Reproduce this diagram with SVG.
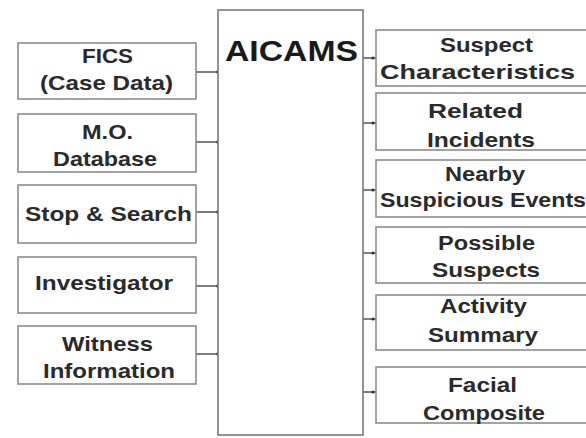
<svg xmlns="http://www.w3.org/2000/svg" width="586" height="438" viewBox="0 0 586 438">
<style>
.box{fill:#fff;stroke:#8c8c8c;stroke-width:1.6}
.main{fill:#fff;stroke:#7a7a7a;stroke-width:1.6}
.t{font-family:"Liberation Sans",Arial,sans-serif;font-weight:bold;font-size:21px;fill:#2a2a2a;text-anchor:middle}
.big{font-size:29px;fill:#1a1a1a}
.c{stroke:#555;stroke-width:1.3;fill:none}
.d{fill:#333}
</style>
<rect width="586" height="438" fill="#fff"/>
<g id="connectors">
<path class="c" d="M196 72H218M196 142H218M196 212H218M196 286H218M196 354H218"/>
<circle class="d" cx="218" cy="72" r="1.8"/>
<circle class="d" cx="218" cy="142" r="1.8"/>
<circle class="d" cx="218" cy="212" r="1.8"/>
<circle class="d" cx="218" cy="286" r="1.8"/>
<circle class="d" cx="218" cy="354" r="1.8"/>
<path class="c" d="M363 58H376M363 123H376M363 190H376M363 253H376M363 319H376M363 392H376" stroke="#888"/>
<circle class="d" cx="373" cy="58" r="1.6"/>
<circle class="d" cx="373" cy="123" r="1.6"/>
<circle class="d" cx="373" cy="190" r="1.6"/>
<circle class="d" cx="373" cy="253" r="1.6"/>
<circle class="d" cx="373" cy="319" r="1.6"/>
<circle class="d" cx="373" cy="392" r="1.6"/>
</g>
<g id="aicams">
<rect class="main" x="218" y="10" width="145" height="425"/>
<text class="t big" x="291.5" y="61" textLength="133" lengthAdjust="spacingAndGlyphs">AICAMS</text>
</g>
<g id="fics">
<rect class="box" x="18" y="43" width="178" height="56"/>
<text class="t" x="107.5" y="63" textLength="51" lengthAdjust="spacingAndGlyphs">FICS</text>
<text class="t" x="106.5" y="90" textLength="133" lengthAdjust="spacingAndGlyphs">(Case Data)</text>
</g>
<g id="mo">
<rect class="box" x="18" y="114" width="178" height="58"/>
<text class="t" x="107.5" y="139" textLength="51" lengthAdjust="spacingAndGlyphs">M.O.</text>
<text class="t" x="105" y="166" textLength="104" lengthAdjust="spacingAndGlyphs">Database</text>
</g>
<g id="stop">
<rect class="box" x="18" y="185" width="178" height="58"/>
<text class="t" x="108.5" y="221" textLength="167" lengthAdjust="spacingAndGlyphs">Stop &amp; Search</text>
</g>
<g id="investigator">
<rect class="box" x="18" y="257" width="178" height="56"/>
<text class="t" x="104" y="290" textLength="138" lengthAdjust="spacingAndGlyphs">Investigator</text>
</g>
<g id="witness">
<rect class="box" x="18" y="326" width="178" height="58"/>
<text class="t" x="107.5" y="351" textLength="91" lengthAdjust="spacingAndGlyphs">Witness</text>
<text class="t" x="109" y="378" textLength="132" lengthAdjust="spacingAndGlyphs">Information</text>
</g>
<g id="suspect-characteristics">
<rect class="box" x="376" y="30" width="216" height="56"/>
<text class="t" x="486.5" y="52" textLength="93" lengthAdjust="spacingAndGlyphs">Suspect</text>
<text class="t" x="477.5" y="79" textLength="195" lengthAdjust="spacingAndGlyphs">Characteristics</text>
</g>
<g id="related-incidents">
<rect class="box" x="376" y="93" width="216" height="57"/>
<text class="t" x="475.5" y="118" textLength="95" lengthAdjust="spacingAndGlyphs">Related</text>
<text class="t" x="481" y="147" textLength="108" lengthAdjust="spacingAndGlyphs">Incidents</text>
</g>
<g id="nearby">
<rect class="box" x="376" y="160" width="216" height="57"/>
<text class="t" x="485" y="181" textLength="80" lengthAdjust="spacingAndGlyphs">Nearby</text>
<text class="t" x="483" y="207" textLength="206" lengthAdjust="spacingAndGlyphs">Suspicious Events</text>
</g>
<g id="possible-suspects">
<rect class="box" x="376" y="227" width="216" height="56"/>
<text class="t" x="486.5" y="250" textLength="97" lengthAdjust="spacingAndGlyphs">Possible</text>
<text class="t" x="486" y="277" textLength="108" lengthAdjust="spacingAndGlyphs">Suspects</text>
</g>
<g id="activity-summary">
<rect class="box" x="376" y="295" width="216" height="55"/>
<text class="t" x="483.5" y="313" textLength="87" lengthAdjust="spacingAndGlyphs">Activity</text>
<text class="t" x="483" y="342" textLength="110" lengthAdjust="spacingAndGlyphs">Summary</text>
</g>
<g id="facial-composite">
<rect class="box" x="376" y="367" width="216" height="56"/>
<text class="t" x="482.5" y="392" textLength="69" lengthAdjust="spacingAndGlyphs">Facial</text>
<text class="t" x="484" y="420" textLength="122" lengthAdjust="spacingAndGlyphs">Composite</text>
</g>
</svg>
